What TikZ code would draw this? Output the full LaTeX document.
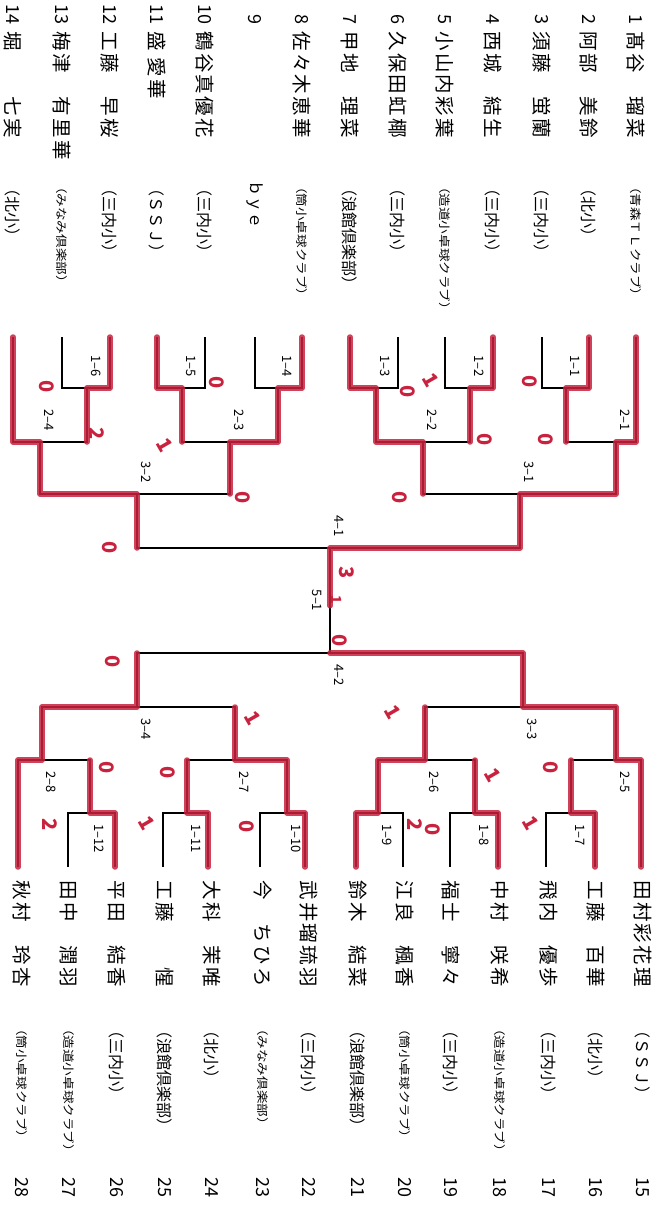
\documentclass[tikz,border=0pt]{standalone}
\usepackage{fontspec}
\setmainfont{Noto Sans CJK JP}
\newfontfamily\namefont{Noto Sans CJK JP}[LetterSpace=12]
\usetikzlibrary{calc}
\definecolor{marker}{RGB}{200,34,62}
\newcommand\sm[1]{{\fontsize{11.5}{11.5}\selectfont\scalebox{1.18}[1]{#1}}}
\tikzset{
  bline/.style={line width=1.4pt, draw=black, line join=miter},
  rline/.style={line width=5.5pt, draw=marker, line cap=round, line join=round, opacity=0.85},
  pname/.style={rotate=-90, anchor=west, inner sep=0pt, font=\namefont\fontsize{19.5}{19.5}\selectfont},
  pnum/.style={rotate=-90, inner sep=0pt, font=\fontsize{18}{18}\selectfont},
  pclub/.style={rotate=-90, anchor=west, inner sep=0pt, font=\fontsize{16}{16}\selectfont},
  mlbl/.style={rotate=-90, anchor=west, inner sep=0pt, font=\fontsize{13}{13}\selectfont},
  score/.style={rotate=-90, inner sep=0pt, text=marker, font=\bfseries\fontsize{20}{20}\selectfont},
  slash/.style={score, rotate=30},
}
\begin{document}
\begin{tikzpicture}[x=1pt,y=-1pt]
\fill[white] (0,0) rectangle (666,1211);
\useasboundingbox (0,0) rectangle (666,1211);

% ---------- players, top ----------
\foreach \x/\n/\nm/\cl in {
  636/1/髙谷　瑠菜/{\sm{（青森ＴＬクラブ）}},
  589/2/阿部　美鈴/{（北小）},
  542/3/須藤　蛍蘭/{（三内小）},
  493/4/西城　結生/{（三内小）},
  445/5/小山内彩葉/{\sm{（造道小卓球クラブ）}},
  398/6/久保田虹椰/{（三内小）},
  350/7/甲地　理菜/{（浪館倶楽部）},
  302/8/佐々木恵華/{\sm{（筒小卓球クラブ）}},
  255/9/{}/{ｂｙｅ},
  205/10/鶴谷真優花/{（三内小）},
  157/11/盛 愛華/{（ＳＳＪ）},
  110/12/工藤　早桜/{（三内小）},
  62/13/梅津　有里華/{\sm{（みなみ倶楽部）}},
  13/14/堀　　七実/{（北小）}}{
  \coordinate (lt\n) at (\x,337);
  \node[pnum, anchor=east] (tn\n) at (\x,25) {\n};
  \node[pname] (tp\n) at (\x,31) {\nm};
  \node[pclub] (tc\n) at (\x,180) {\cl};
}

% ---------- players, bottom ----------
\foreach \x/\tx/\n/\nm/\cl in {
  641/643/15/田村彩花理/{（ＳＳＪ）},
  595/596/16/工藤　百華/{（北小）},
  546/549/17/飛内　優歩/{（三内小）},
  498/500/18/中村　咲希/{\sm{（造道小卓球クラブ）}},
  450/451/19/福士　寧々/{（三内小）},
  403/405/20/江良　楓香/{\sm{（筒小卓球クラブ）}},
  356/358/21/鈴木　結菜/{（浪館倶楽部）},
  305/309/22/武井瑠琉羽/{（三内小）},
  260/263/23/今　ちひろ/{\sm{（みなみ倶楽部）}},
  208/212/24/大科　茉唯/{（北小）},
  163/165/25/工藤　　惺/{（浪館倶楽部）},
  115/117/26/平田　結香/{（三内小）},
  68/69/27/田中　潤羽/{\sm{（造道小卓球クラブ）}},
  18/22/28/秋村　玲杏/{\sm{（筒小卓球クラブ）}}}{
  \coordinate (lb\n) at (\x,867);
  \node[pname] (bp\n) at (\tx,880) {\nm};
  \node[pclub] (bc\n) at (\tx,1022) {\cl};
  \node[pnum, anchor=west] (bn\n) at (\tx,1177) {\n};
}

% ---------- match points ----------
\coordinate (m11) at (566,388); \coordinate (m12) at (470,388);
\coordinate (m13) at (376,388); \coordinate (m14) at (278,388);
\coordinate (m15) at (182,388); \coordinate (m16) at (87,388);
\coordinate (m21) at (616,442); \coordinate (m22) at (423,442);
\coordinate (m23) at (230,442); \coordinate (m24) at (40,442);
\coordinate (m31) at (520,494); \coordinate (m32) at (137,494);
\coordinate (m41) at (330,548);
\coordinate (m17) at (571,813); \coordinate (m18) at (475,813);
\coordinate (m19) at (378,813); \coordinate (m110) at (287,813);
\coordinate (m111) at (187,813); \coordinate (m112) at (90,813);
\coordinate (m25) at (616,760); \coordinate (m26) at (425,760);
\coordinate (m27) at (235,760); \coordinate (m28) at (42,760);
\coordinate (m33) at (523,707); \coordinate (m34) at (137,707);
\coordinate (m42) at (330,653);
\coordinate (fin) at ($(m41)!0.55!(m42)$);

% ---------- black bracket ----------
\draw[bline] (lt2) |- (m11) -| (lt3);
\draw[bline] (lt4) |- (m12) -| (lt5);
\draw[bline] (lt6) |- (m13) -| (lt7);
\draw[bline] (lt8) |- (m14) -| (lt9);
\draw[bline] (lt10) |- (m15) -| (lt11);
\draw[bline] (lt12) |- (m16) -| (lt13);
\draw[bline] (lt1) |- (m21) -| (m11);
\draw[bline] (m13) |- (m22) -| (m12);
\draw[bline] (m15) |- (m23) -| (m14);
\draw[bline] (lt14) |- (m24) -| (m16);
\draw[bline] (m22) |- (m31) -| (m21);
\draw[bline] (m24) |- (m32) -| (m23);
\draw[bline] (m32) |- (m41) -| (m31);
\draw[bline] (m41) -- (m42);
\draw[bline] (lb16) |- (m17) -| (lb17);
\draw[bline] (lb18) |- (m18) -| (lb19);
\draw[bline] (lb20) |- (m19) -| (lb21);
\draw[bline] (lb22) |- (m110) -| (lb23);
\draw[bline] (lb24) |- (m111) -| (lb25);
\draw[bline] (lb26) |- (m112) -| (lb27);
\draw[bline] (lb15) |- (m25) -| (m17);
\draw[bline] (m19) |- (m26) -| (m18);
\draw[bline] (m111) |- (m27) -| (m110);
\draw[bline] (lb28) |- (m28) -| (m112);
\draw[bline] (m26) |- (m33) -| (m25);
\draw[bline] (m28) |- (m34) -| (m27);
\draw[bline] (m34) |- (m42) -| (m33);

% ---------- red marker paths ----------
\draw[rline] (lt1) |- (m21) |- (m31) |- (m41) -- (fin);
\draw[rline] (lt2) |- (m11) -- (m11 |- m21);
\draw[rline] (lt4) |- (m12) -- (m12 |- m22);
\draw[rline] (lt7) |- (m13) |- (m22) -- (m22 |- m31);
\draw[rline] (lt8) |- (m14) |- (m23) -- (m23 |- m32);
\draw[rline] (lt11) |- (m15) -- (m15 |- m23);
\draw[rline] (lt12) |- (m16) -- (m16 |- m24);
\draw[rline] (lt14) |- (m24) |- (m32) -- (m32 |- m41);
\draw[rline] (lb15) |- (m25) |- (m33) |- (m42);
\draw[rline] (lb16) |- (m17) -- (m17 |- m25);
\draw[rline] (lb18) |- (m18) -- (m18 |- m26);
\draw[rline] (lb21) |- (m19) |- (m26) -- (m26 |- m33);
\draw[rline] (lb28) |- (m28) |- (m34) -- (m34 |- m42);
\draw[rline] (lb26) |- (m112) -- (m112 |- m28);
\draw[rline] (lb24) |- (m111) -- (m111 |- m27);
\draw[rline] (lb22) |- (m110) |- (m27) -- (m27 |- m34);

% ---------- match labels ----------
\foreach \m/\t in {11/1–1,12/1–2,13/1–3,14/1–4,15/1–5,16/1–6,
                   21/2–1,22/2–2,23/2–3,24/2–4,31/3–1,32/3–2,41/4–1}{
  \node[mlbl] (lab\m) at ($(m\m)+(9,-33)$) {\t};
}
\foreach \m/\t in {17/1–7,18/1–8,19/1–9,110/1–10,111/1–11,112/1–12,
                   25/2–5,26/2–6,27/2–7,28/2–8,33/3–3,34/3–4,42/4–2}{
  \node[mlbl] (lab\m) at ($(m\m)+(9,11)$) {\t};
}
\node[mlbl, anchor=center] (lab51) at ($(m41)!0.5!(m42)+(-13,0)$) {5–1};

% ---------- red scores ----------
\node[score] (s1) at (408,392) {0};
\node[slash] (s2) at (431,380) {1};
\node[score] (s3) at (530,382) {0};
\node[score] (s4) at (485,440) {0};
\node[score] (s5) at (546,440) {0};
\node[score] (s6) at (400,498) {0};
\node[score] (s7) at (47,387) {0};
\node[score] (s8) at (97,434) {2};
\node[score] (s9) at (217,383) {0};
\node[slash] (s10) at (165,445) {1};
\node[score] (s11) at (243,498) {0};
\node[score] (s12) at (110,548) {0};
\node[score] (s13) at (347,573) {3};
\node[score, font=\bfseries\fontsize{14}{14}\selectfont] (s14) at (337,600) {1};
\node[score] (s15) at (340,641) {0};
\node[slash] (s16) at (393,712) {1};
\node[slash] (s17) at (493,775) {1};
\node[score] (s18) at (551,768) {0};
\node[score] (s19) at (415,825) {2};
\node[score] (s20) at (433,830) {0};
\node[slash] (s21) at (531,823) {1};
\node[score] (s22) at (113,662) {0};
\node[slash] (s23) at (253,718) {1};
\node[score] (s24) at (107,768) {0};
\node[score] (s25) at (168,773) {0};
\node[score] (s26) at (50,825) {2};
\node[slash] (s27) at (147,823) {1};
\node[score] (s28) at (247,827) {0};
\end{tikzpicture}
\end{document}
